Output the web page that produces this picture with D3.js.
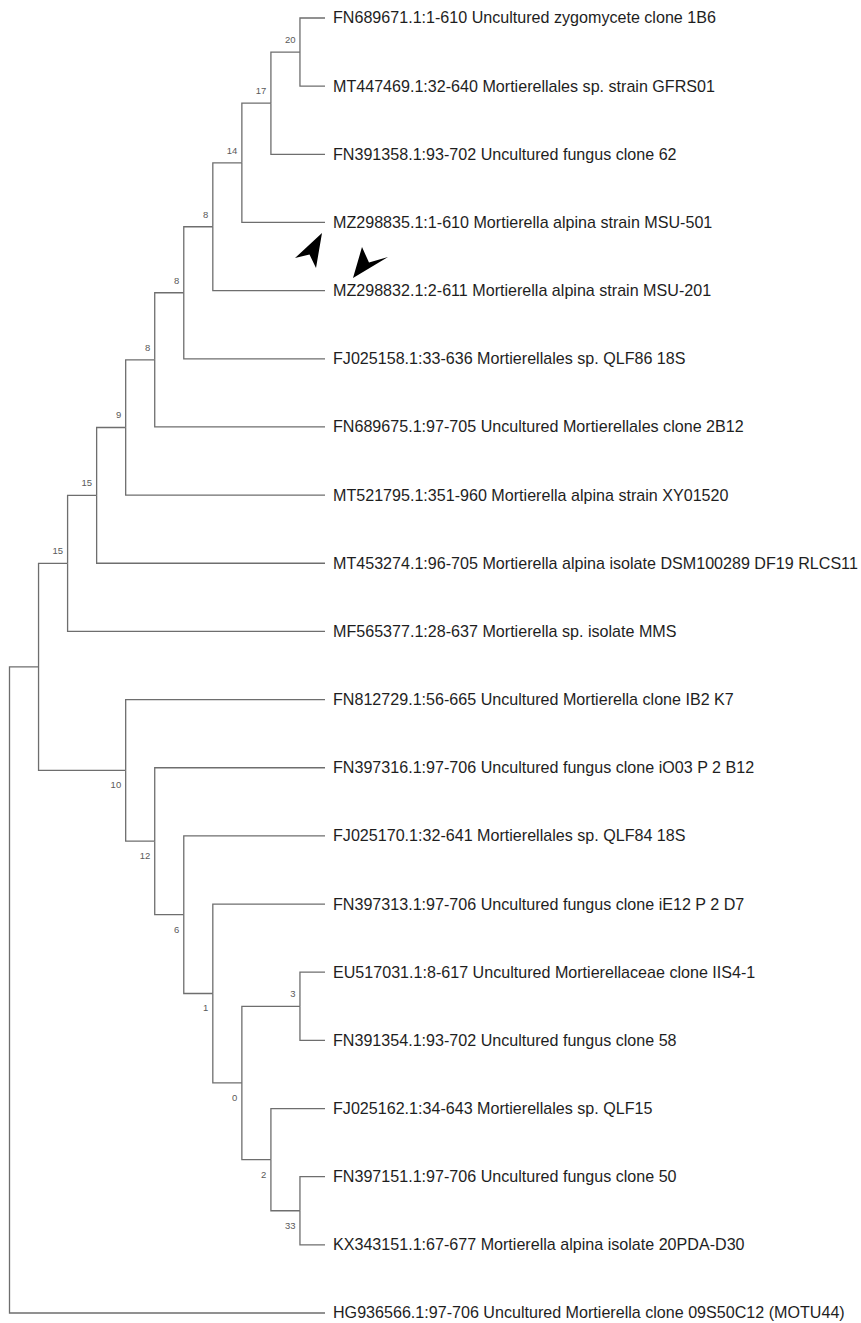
<!DOCTYPE html>
<html>
<head>
<meta charset="utf-8">
<script src="https://cdn.jsdelivr.net/npm/d3@7"></script>
<style>
  html, body { margin: 0; padding: 0; background: #fff; }
  svg { display: block; }
</style>
</head>
<body>
<svg id="chart" width="861" height="1323"></svg>
<script>
// ---- Data ----
const taxa = [
  "FN689671.1:1-610 Uncultured zygomycete clone 1B6",
  "MT447469.1:32-640 Mortierellales sp. strain GFRS01",
  "FN391358.1:93-702 Uncultured fungus clone 62",
  "MZ298835.1:1-610 Mortierella alpina strain MSU-501",
  "MZ298832.1:2-611 Mortierella alpina strain MSU-201",
  "FJ025158.1:33-636 Mortierellales sp. QLF86 18S",
  "FN689675.1:97-705 Uncultured Mortierellales clone 2B12",
  "MT521795.1:351-960 Mortierella alpina strain XY01520",
  "MT453274.1:96-705 Mortierella alpina isolate DSM100289 DF19 RLCS11",
  "MF565377.1:28-637 Mortierella sp. isolate MMS",
  "FN812729.1:56-665 Uncultured Mortierella clone IB2 K7",
  "FN397316.1:97-706 Uncultured fungus clone iO03 P 2 B12",
  "FJ025170.1:32-641 Mortierellales sp. QLF84 18S",
  "FN397313.1:97-706 Uncultured fungus clone iE12 P 2 D7",
  "EU517031.1:8-617 Uncultured Mortierellaceae clone IIS4-1",
  "FN391354.1:93-702 Uncultured fungus clone 58",
  "FJ025162.1:34-643 Mortierellales sp. QLF15",
  "FN397151.1:97-706 Uncultured fungus clone 50",
  "KX343151.1:67-677 Mortierella alpina isolate 20PDA-D30",
  "HG936566.1:97-706 Uncultured Mortierella clone 09S50C12 (MOTU44)"
];
// topology: leaves referenced by index into taxa, internal nodes labelled by bootstrap support
const topology = "(((((((((((0,1)20,2)17,3)14,4)8,5)8,6)8,7)9,8)15,9)15,(10,(11,(12,(13,((14,15)3,(16,(17,18)33)2)0)1)6)12)10),19);";
// annotation arrowheads point at these taxa
const markedTaxa = [3, 4];

// ---- Newick parser ----
function parseNewick(s) {
  let i = 0;
  function node() {
    const n = {};
    if (s[i] === "(") {
      i++;
      n.children = [node()];
      while (s[i] === ",") { i++; n.children.push(node()); }
      i++; // ')'
    }
    let lab = "";
    while (i < s.length && !",();".includes(s[i])) lab += s[i++];
    if (n.children) { n.support = lab === "" ? null : +lab; }
    else { n.taxon = +lab; n.name = taxa[+lab]; }
    return n;
  }
  return node();
}

const root = d3.hierarchy(parseNewick(topology));
const nLeaves = root.leaves().length;
const firstTipY = 18, lastTipY = 1313;
const step = (lastTipY - firstTipY) / (nLeaves - 1);
const cluster = d3.cluster().size([step * nLeaves, 319.5]).separation(() => 1);
cluster(root);

const svg = d3.select("#chart");
const g = svg.append("g").attr("transform", `translate(9.5,${firstTipY - step / 2})`);

const branchColor = "#6e6e6e";

// Branches (elbow)
g.append("g").selectAll("path")
  .data(root.descendants().filter(d => d.parent))
  .join("path")
  .attr("fill", "none")
  .attr("stroke", branchColor)
  .attr("stroke-width", 1.3)
  .attr("d", d => {
    const endX = d.children ? d.y : d.y - 4;
    return `M${d.parent.y},${d.parent.x}V${d.x}H${endX}`;
  });

// Leaf labels
g.append("g").selectAll("text")
  .data(root.leaves())
  .join("text")
  .attr("x", d => d.y + 4)
  .attr("y", d => d.x + 5.5)
  .attr("font-family", "'Liberation Sans', Arial, sans-serif")
  .attr("font-size", 16.1)
  .attr("fill", "#1e1e1e")
  .text(d => d.data.name);

// Bootstrap support labels
g.append("g").selectAll("text")
  .data(root.descendants().filter(d => d.children && d.data.support != null))
  .join("text")
  .attr("x", d => d.y - 4.5)
  .attr("y", d => {
    const sib = d.parent.children;
    const isFirst = sib[0] === d;
    return isFirst ? d.x - 9 : d.x + 18;
  })
  .attr("text-anchor", "end")
  .attr("font-family", "'Liberation Sans', Arial, sans-serif")
  .attr("font-size", 9.5)
  .attr("fill", "#5a5a5a")
  .text(d => d.data.support);

// Arrowhead annotations anchored between the two marked taxa
const leafNodes = root.leaves();
const a = leafNodes[markedTaxa[0]], b = leafNodes[markedTaxa[1]];
const midY = (a.x + b.x) / 2; // vertical midpoint
const tipX = a.y;
const arrowsG = g.append("g").attr("transform", `translate(${tipX},${midY})`);
// shapes relative to (tip x, midpoint)
arrowsG.append("path")
  .attr("d", "M-7,-23.5 L-34,1.5 L-19.5,-2 L-13,11.5 Z")
  .attr("fill", "#000");
arrowsG.append("path")
  .attr("d", "M33,-9.5 L40,6 L59,0.5 L24,21.5 Z")
  .attr("fill", "#000");
</script>
</body>
</html>
